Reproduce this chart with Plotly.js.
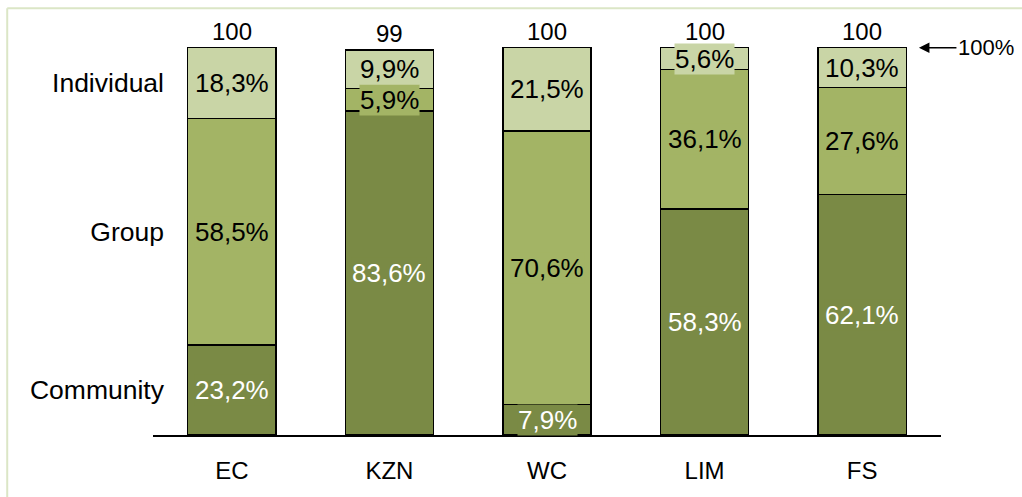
<!DOCTYPE html>
<html>
<head>
<meta charset="utf-8">
<script src="https://cdn.plot.ly/plotly-3.0.1.min.js"></script>
<style>
  body { margin: 0; background: #fff; }
  #chart { width: 1022px; height: 497px; }
</style>
</head>
<body>
<div id="chart"></div>
<script>
var provinces = ["EC", "KZN", "WC", "LIM", "FS"];
var community = [23.2, 83.6, 7.9, 58.3, 62.1];
var group = [58.5, 5.9, 70.6, 36.1, 27.6];
var individual = [18.3, 9.9, 21.5, 5.6, 10.3];
var totals = [100, 99, 100, 100, 100];
var levelLabels = ["Community", "Group", "Individual"];

var font = "Liberation Sans, Arial, sans-serif";
var colors = ["#7a8a45", "#a3b465", "#c9d5a6"];
var textColors = ["#ffffff", "#000000", "#000000"];
var series = [community, group, individual];

var data = series.map(function (vals, k) {
  return {
    type: "bar",
    name: levelLabels[k],
    x: provinces,
    y: vals,
    marker: { color: colors[k], line: { color: "#000", width: 1.5 } },
    hoverinfo: "skip"
  };
});

// y tick positions: middle of each EC segment
var tickvals = [
  community[0] / 2,
  community[0] + group[0] / 2,
  community[0] + group[0] + individual[0] / 2
];

function fmt(v) { return v.toFixed(1).replace(".", ",") + "%"; }

var annotations = [];
provinces.forEach(function (p, i) {
  var base = 0;
  series.forEach(function (vals, k) {
    annotations.push({
      x: p, y: base + vals[i] / 2, xref: "x", yref: "y",
      text: fmt(vals[i]),
      showarrow: false,
      bgcolor: colors[k],
      borderpad: 0,
      font: { family: font, size: 26, color: textColors[k] }
    });
    base += vals[i];
  });
  annotations.push({
    x: p, y: base, xref: "x", yref: "y",
    text: String(totals[i]),
    showarrow: false,
    yanchor: "bottom", yshift: 1,
    font: { family: font, size: 24, color: "#000" }
  });
});

annotations.push({
  x: 4.36, y: 100, xref: "x", yref: "y",
  text: "100%",
  showarrow: true,
  ax: 67, ay: 0,
  arrowhead: 2, arrowsize: 1.4, arrowwidth: 1.5, arrowcolor: "#000",
  font: { family: font, size: 22, color: "#000" }
});

var layout = {
  width: 1022,
  height: 497,
  margin: { l: 153, r: 81, t: 9, b: 62 },
  paper_bgcolor: "#fff",
  plot_bgcolor: "#fff",
  barmode: "stack",
  bargap: 0.44,
  showlegend: false,
  xaxis: {
    type: "category",
    range: [-0.5, 4.5],
    showline: true, linecolor: "#000", linewidth: 2,
    showgrid: false, zeroline: false, ticks: "",
    ticklabelstandoff: 13,
    tickfont: { family: font, size: 24, color: "#000" },
    fixedrange: true
  },
  yaxis: {
    range: [0, 110],
    showline: false, showgrid: false, zeroline: false, ticks: "",
    tickvals: tickvals,
    ticktext: levelLabels,
    ticklabelstandoff: -12,
    tickfont: { family: font, size: 26.5, color: "#000" },
    fixedrange: true
  },
  annotations: annotations,
  shapes: [
    { type: "line", xref: "paper", yref: "paper", x0: -0.185, x1: -0.185, y0: 1.002, y1: -0.16,
      line: { color: "#dbe6c6", width: 2 } },
    { type: "line", xref: "paper", yref: "paper", x0: -0.185, x1: 1.2, y0: 1.002, y1: 1.002,
      line: { color: "#dbe6c6", width: 2 } }
  ]
};

Plotly.newPlot("chart", data, layout, { displayModeBar: false, staticPlot: true });
</script>
</body>
</html>
